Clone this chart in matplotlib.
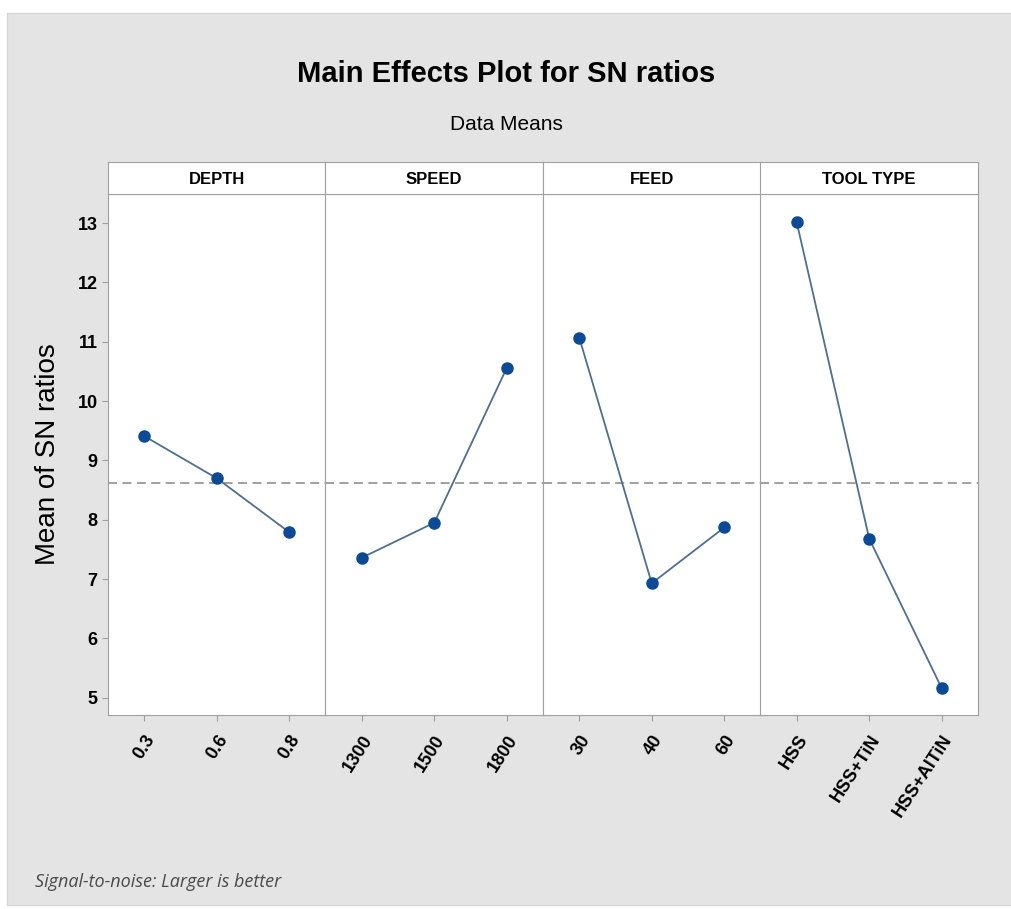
import matplotlib.pyplot as plt
from matplotlib.patches import Rectangle
import numpy as np

# factor levels and mean SN ratios
factors = ['DEPTH', 'SPEED', 'FEED', 'TOOL TYPE']
depth_levels = ['0.3', '0.6', '0.8']
speed_levels = ['1300', '1500', '1800']
feed_levels = ['30', '40', '60']
tool_levels = ['HSS', 'HSS+TiN', 'HSS+AlTiN']
depth_sn = [9.41, 8.70, 7.79]
speed_sn = [7.36, 7.95, 10.56]
feed_sn = [11.07, 6.93, 7.87]
tool_sn = [13.01, 7.68, 5.16]

levels = [depth_levels, speed_levels, feed_levels, tool_levels]
means = [depth_sn, speed_sn, feed_sn, tool_sn]
grand_mean = np.mean(np.concatenate(means))

plt.rcParams['font.family'] = ['Liberation Sans', 'DejaVu Sans']

fig = plt.figure(figsize=(10.12, 9.09), dpi=100)
fig.patch.set_facecolor('white')
# grey backdrop behind everything
fig.patches.append(Rectangle((7 / 1012, 0.004), 1 - 7 / 1012, 1 - 13 / 909 - 0.004,
                             transform=fig.transFigure, facecolor='#e4e4e4',
                             edgecolor='#d6d6d6', lw=1, zorder=-10))

left = 108 / 1012
pw = 217.5 / 1012
bottom = 1 - 715 / 909
height = (715 - 194) / 909
strip_h = 32 / 909
edge = '#a0a0a0'

axes = []
for i, name in enumerate(factors):
    ax = fig.add_axes([left + i * pw, bottom, pw, height],
                      sharey=axes[0] if axes else None)
    axes.append(ax)
    x = np.arange(1, 4)
    ax.plot(x, means[i], color='#4f6f8f', lw=1.3, zorder=2)
    ax.plot(x, means[i], 'o', color='#0d4a96', ms=8, zorder=3)
    ax.axhline(grand_mean, color='#999999', lw=1.3, ls=(0, (5, 3)), zorder=1)
    ax.set_xlim(0.5, 3.5)
    ax.set_ylim(4.71, 13.49)
    ax.set_xticks(x)
    ax.set_xticklabels(levels[i], rotation=57, ha='right', va='top',
                       rotation_mode='anchor', fontsize=13, fontweight='bold')
    ax.tick_params(axis='x', length=4, color=edge, pad=8)
    for s in ax.spines.values():
        s.set_color(edge)
    if i == 0:
        ax.set_yticks(range(5, 14))
        ax.tick_params(axis='y', length=4, color=edge, labelsize=13)
        for t in ax.get_yticklabels():
            t.set_fontweight('bold')
    else:
        ax.tick_params(axis='y', left=False, labelleft=False)

    sx = fig.add_axes([left + i * pw, bottom + height, pw, strip_h])
    sx.set_xticks([])
    sx.set_yticks([])
    for s in sx.spines.values():
        s.set_color(edge)
    sx.text(0.5, 0.45, name, ha='center', va='center', fontsize=12,
            fontweight='bold', transform=sx.transAxes)

axes[0].set_ylabel('Mean of SN ratios', fontsize=20, labelpad=12)

fig.text(0.5, 1 - 74 / 909, 'Main Effects Plot for SN ratios', ha='center',
         va='center', fontsize=21, fontweight='bold')
fig.text(0.5, 1 - 124 / 909, 'Data Means', ha='center', va='center', fontsize=15)
fig.text(35 / 1012, 1 - 882 / 909, 'Signal-to-noise: Larger is better',
         family=['Open Sans', 'DejaVu Sans'], style='italic', fontsize=13,
         color='#4a4a4a', ha='left', va='center')

fig.savefig('out.png', dpi=100)
